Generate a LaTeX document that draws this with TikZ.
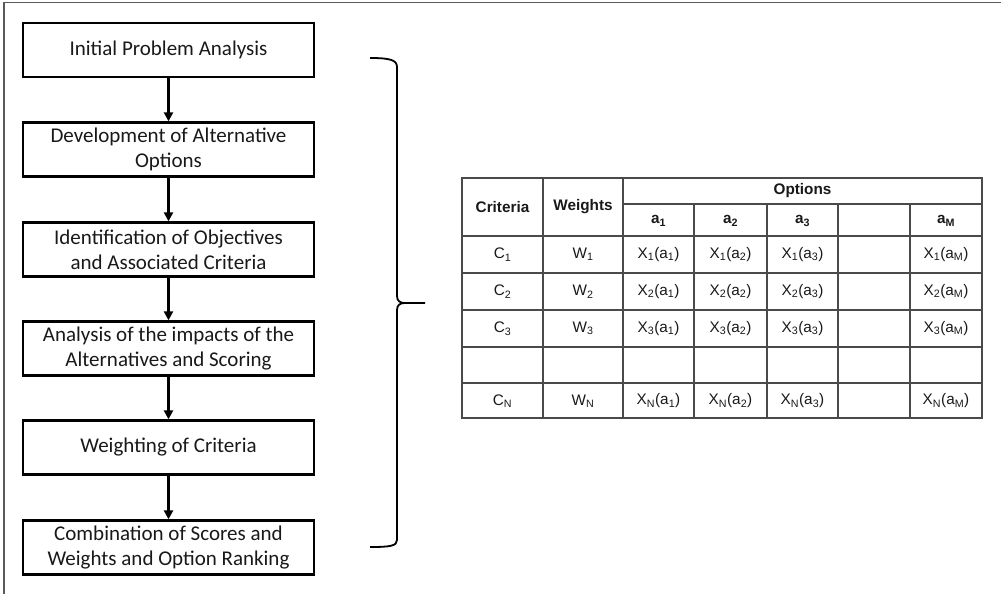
\documentclass[tikz,border=0pt]{standalone}
\usepackage{fontspec}
\setmainfont{Carlito}
\newfontfamily\arialf{Liberation Sans}
\usetikzlibrary{arrows.meta}
\definecolor{framegray}{HTML}{5A5A5A}
\definecolor{tablegray}{HTML}{4A4A4A}
\tikzset{
  stepbox/.style={draw=black, line width=2.3pt, minimum width=291pt, minimum height=54pt,
    align=center, inner sep=0pt, font=\fontsize{21}{25}\selectfont, text=black!90},
  flowarrow/.style={line width=2.3pt, -{Triangle[length=9pt,width=9pt]}},
  tline/.style={draw=tablegray, line width=1.6pt},
  cell/.style={font=\arialf\fontsize{15.3}{18}\selectfont, inner sep=0pt, text=black!90},
  hcell/.style={font=\arialf\bfseries\fontsize{15.3}{18}\selectfont, inner sep=0pt, text=black!90}
}
\newcommand{\sbx}[1]{\textsubscript{#1}}
\begin{document}
\begin{tikzpicture}[x=1pt,y=-1pt]
\useasboundingbox (0,0) rectangle (1001,594);
% frame
\draw[framegray, line width=1.8pt] (3,2.5) -- (1001,2.5);
\draw[framegray, line width=1.8pt] (4,2.5) -- (4,594);
% flowchart
\node[stepbox] (s1) at (168.5,50) {Initial Problem Analysis};
\node[stepbox] (s2) at (168.5,149.5) {Development of Alternative\\Options};
\node[stepbox] (s3) at (168.5,249.5) {Identification of Objectives\\and Associated Criteria};
\node[stepbox] (s4) at (168.5,348.5) {Analysis of the impacts of the\\Alternatives and Scoring};
\node[stepbox] (s5) at (168.5,447.5) {Weighting of Criteria};
\node[stepbox] (s6) at (168.5,547.5) {Combination of Scores and\\Weights and Option Ranking};
\foreach \a/\b in {s1/s2,s2/s3,s3/s4,s4/s5,s5/s6}
  \draw[flowarrow] (\a.south) -- (\b.north);
% brace
\coordinate (btip) at (425,303);
\draw[black, line width=1.8pt]
  (370,58) .. controls (390,58) and (397,60) .. (397,67) -- (397,296)
  .. controls (397,301) and (400,303) .. (405,303) -- (btip);
\draw[black, line width=1.8pt]
  (405,303) .. controls (400,303) and (397,305) .. (397,310) -- (397,540)
  .. controls (397,546) and (390,547) .. (370,547);
% table grid
\draw[tline] (462,178) rectangle (982,418);
\foreach \y in {236,273,310,347,383} \draw[tline] (462,\y) -- (982,\y);
\draw[tline] (623,204) -- (982,204);
\foreach \x in {543,623} \draw[tline] (\x,178) -- (\x,418);
\foreach \x in {694,767,838,910} \draw[tline] (\x,204) -- (\x,418);
% header
\node[hcell] (hcrit) at (502.5,207) {Criteria};
\node[hcell] (hw) at (583,207) {Weights};
\node[hcell] (hopt) at (802.5,191) {Options};
\node[hcell] (ha1) at (658.5,221) {a\sbx{1}};
\node[hcell] (ha2) at (730.5,221) {a\sbx{2}};
\node[hcell] (ha3) at (802.5,221) {a\sbx{3}};
\node[hcell] (haM) at (946,221) {a\sbx{M}};
% rows
\foreach \r/\y in {1/254.5,2/291.5,3/328.5,N/401} {
  \node[cell] at (502.5,\y) {C\sbx{\r}};
  \node[cell] at (583,\y) {W\sbx{\r}};
  \node[cell] at (658.5,\y) {X\sbx{\r}(a\sbx{1})};
  \node[cell] at (730.5,\y) {X\sbx{\r}(a\sbx{2})};
  \node[cell] at (802.5,\y) {X\sbx{\r}(a\sbx{3})};
  \node[cell] at (946,\y) {X\sbx{\r}(a\sbx{M})};
}
\end{tikzpicture}
\end{document}
